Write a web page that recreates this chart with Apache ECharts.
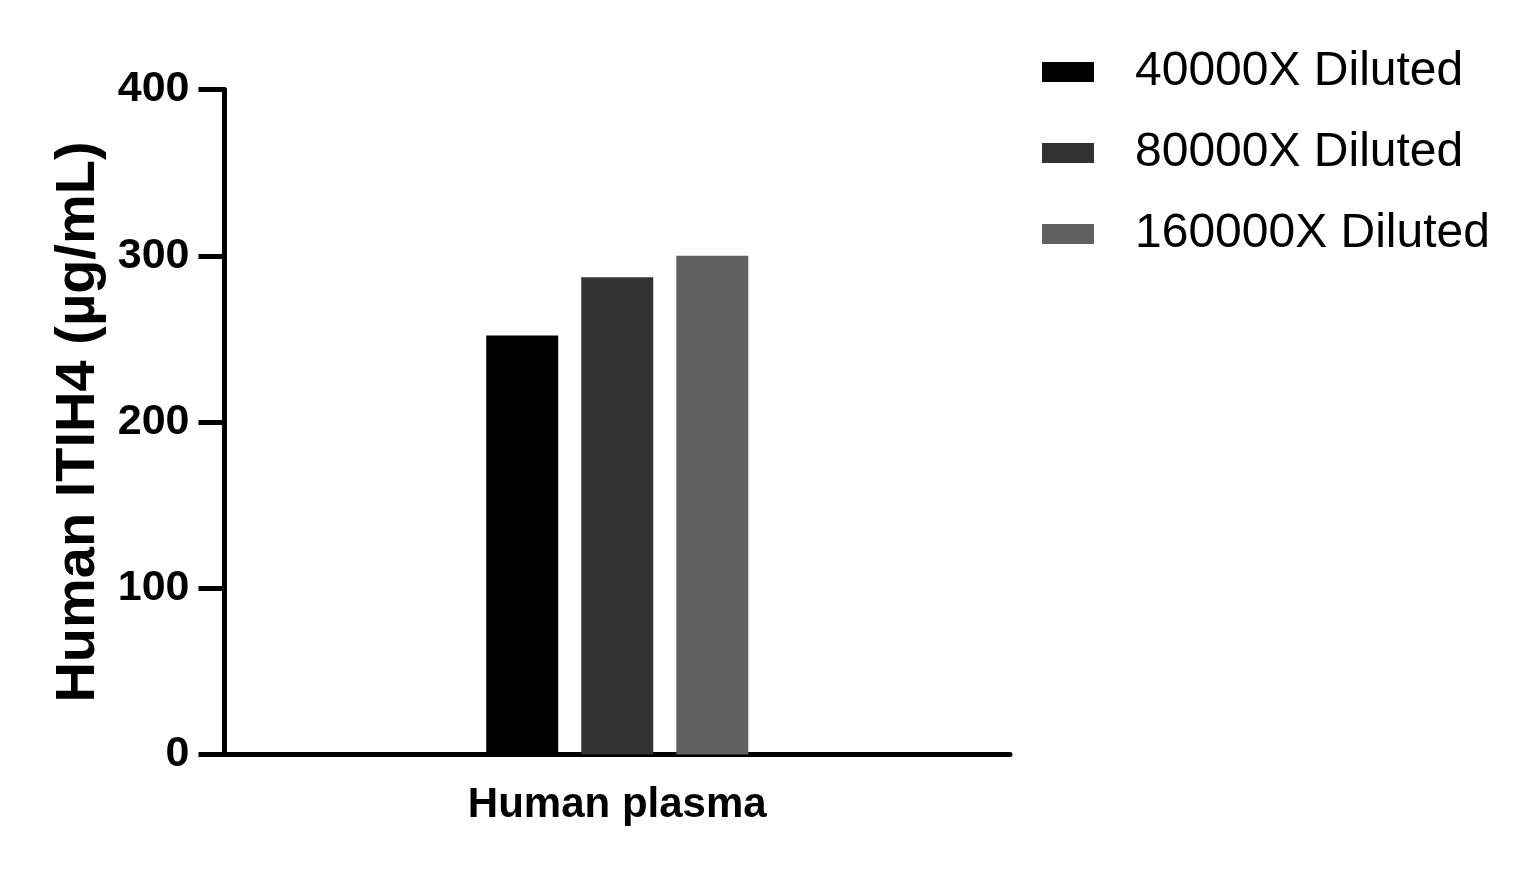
<!DOCTYPE html>
<html lang="en">
<head>
    <meta charset="UTF-8">
    <title>Human ITIH4</title>
    <script src="https://cdn.jsdelivr.net/npm/echarts@6/dist/echarts.min.js"></script>
    <style>
        html, body {
            margin: 0;
            padding: 0;
            background: #fff;
        }
        #chart {
            width: 1538px;
            height: 873px;
        }
    </style>
</head>
<body>
<div id="chart"></div>
<script type="text/javascript">
    var categories = ['Human plasma'];
    var seriesNames = ['40000X Diluted', '80000X Diluted', '160000X Diluted'];
    var seriesColors = ['#000000', '#333333', '#606060'];
    var dil40000 = [252];
    var dil80000 = [287];
    var dil160000 = [300];
    var yTicks = [0, 100, 200, 300, 400];

    var font = '"Liberation Sans", Arial, sans-serif';
    var myChart = echarts.init(document.getElementById('chart'));

    var values = [dil40000, dil80000, dil160000];
    var series = [];
    for (var i = 0; i < seriesNames.length; i++) {
        series.push({
            name: seriesNames[i],
            type: 'bar',
            data: values[i],
            barWidth: 72,
            barGap: '32%',
            itemStyle: {color: seriesColors[i]}
        });
    }

    var option = {
        animation: false,
        grid: {left: 224.5, right: 528, top: 89.5, bottom: 118.5},
        legend: {
            orient: 'vertical',
            left: 1037,
            top: 43,
            icon: 'rect',
            itemWidth: 52,
            itemHeight: 20,
            itemGap: 33,
            data: seriesNames,
            textStyle: {
                fontFamily: font,
                fontSize: 48,
                lineHeight: 48,
                color: '#000',
                padding: [0, 0, 0, 36]
            }
        },
        xAxis: {
            type: 'category',
            data: categories,
            axisLine: {lineStyle: {color: '#000', width: 5}},
            axisTick: {show: false},
            axisLabel: {
                margin: 30,
                fontFamily: font,
                fontSize: 42,
                fontWeight: 'bold',
                color: '#000'
            }
        },
        yAxis: {
            type: 'value',
            min: yTicks[0],
            max: yTicks[yTicks.length - 1],
            interval: 100,
            name: 'Human ITIH4 (µg/mL)',
            nameLocation: 'middle',
            nameRotate: 90,
            nameGap: 117,
            nameTextStyle: {
                fontFamily: font,
                fontSize: 56,
                fontWeight: 'bold',
                color: '#000'
            },
            splitLine: {show: false},
            axisLine: {show: true, lineStyle: {color: '#000', width: 5}},
            axisTick: {show: true, length: 26, lineStyle: {color: '#000', width: 5}},
            axisLabel: {
                margin: 35,
                fontFamily: font,
                fontSize: 43,
                fontWeight: 'bold',
                color: '#000'
            }
        },
        series: series
    };
    myChart.setOption(option);
</script>
</body>
</html>
